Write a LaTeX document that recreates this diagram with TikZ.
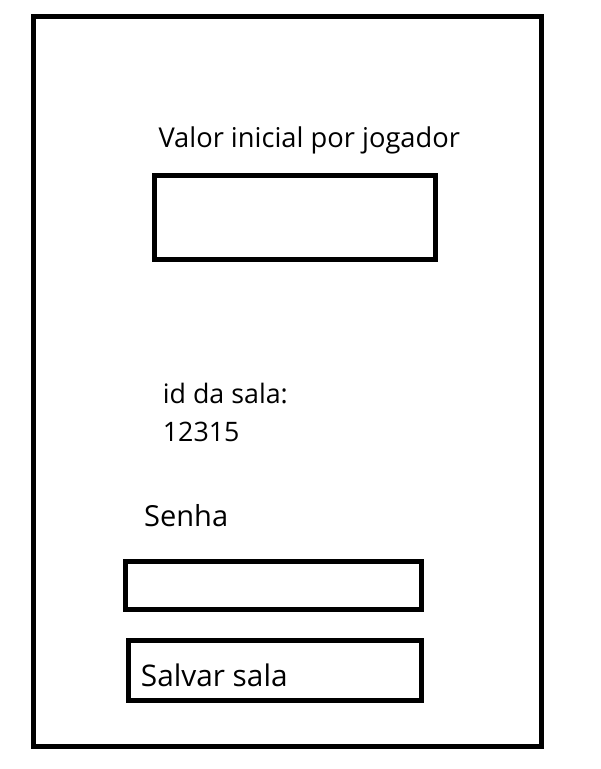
\documentclass[tikz,border=0pt]{standalone}
\usepackage{fontspec}
\setmainfont{Open Sans}
\begin{document}
\begin{tikzpicture}[x=1pt,y=-1pt,
  frame/.style={draw=black,line width=5pt,inner sep=0pt,outer sep=0pt},
  lbl/.style={anchor=base west,inner sep=0pt,text=black}]
\useasboundingbox (0,0) rectangle (601,769);
\node[frame,minimum width=508pt,minimum height=730pt] (screen) at (287.5,381.5) {};
\node[frame,minimum width=280.2pt,minimum height=83.7pt] (valorbox) at (294.9,217.65) {};
\node[frame,minimum width=295.9pt,minimum height=48pt] (senhabox) at (273.75,585.8) {};
\node[frame,minimum width=293.5pt,minimum height=60pt] (salvar) at (274.95,670.8) {};
\node[lbl,font=\fontsize{27.3}{33}\selectfont] (valor) at (158.3,147.7) {Valor inicial por jogador};
\node[lbl,font=\fontsize{26.8}{32}\selectfont] (id) at (162.7,403.3) {id da sala:};
\node[lbl,font=\fontsize{26.8}{32}\selectfont] (num) at (162.7,441.7) {12315};
\node[lbl,font=\fontsize{29}{35}\selectfont] (senha) at (144,526.7) {Senha};
\node[lbl,font=\fontsize{29.8}{36}\selectfont] (salvartxt) at (140.7,686) {Salvar sala};
\end{tikzpicture}
\end{document}
